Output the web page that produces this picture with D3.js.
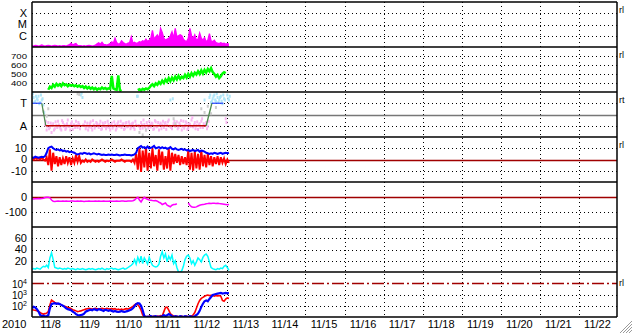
<!DOCTYPE html>
<html><head><meta charset="utf-8">
<script src="https://cdn.jsdelivr.net/npm/d3@7"></script>
<style>body{margin:0;background:#fff}svg{display:block}text{font-family:"Liberation Sans",Arial,sans-serif;fill:#000}</style>
</head><body><svg id="c" width="633" height="334"></svg>
<script>
// ---- data ----
const yearLabel = "2010";
const dayLabels = ["11/8","11/9","11/10","11/11","11/12","11/13","11/14","11/15","11/16","11/17","11/18","11/19","11/20","11/21","11/22"];
const xrayLevelLabels = ["X","M","C"];
const xrayLevelValues = [1e-4,1e-5,1e-6];
const speedTicks = [700,600,500,400];
const phiTickLabels = ["T","A"];
const phiTickValues = [270,90];
const bTicks = [10,0,-10];
const dstTicks = [0,-100];
const densTicks = [60,40,20];
const fluxTicks = [4,3,2];
const panelMarkers = ["rl","rl","rt","rl","","","rl"];

// hourly samples starting 2010-11-08 00:00 UT
// X-ray flux, units of 1e-7 W/m2
const xray = [1.3,1.2,1.4,1.3,1.2,1.3,1.5,1.3,1.2,1.3,
1.4,1.3,1.2,1.3,1.4,1.3,1.2,1.3,1.2,1.3,
1.3,1.2,1.4,1.6,2.2,1.5,1.8,2.0,1.4,1.3,
1.3,1.2,1.3,1.2,1.3,1.4,1.3,1.2,1.3,1.5,
1.9,2.4,1.8,2.6,1.7,1.6,1.5,1.7,2.0,2.8,
2.2,6.0,2.5,1.8,2.0,3.5,2.5,2.0,1.8,2.2,
2.5,8.0,2.2,2.6,2.0,2.4,3.0,2.6,3.5,3.0,
5.0,3.2,4.0,6.0,30,5,8,12,6,45,
20,6,4,5,6,10,22,6,45,8,
10,12,10,5,3.5,3,6,45,10,6,
12,4,5,17,6,4,7,3,4,15,
3.5,3,4,2.5,2.2,2.0,2.4,2.0,2.2,1.8,
2.0,1.8];
// solar wind speed, km/s
const speed = [null,null,null,null,null,null,null,null,null,null,
325,360,345,380,360,390,370,385,365,395,
375,385,365,380,370,378,365,375,360,372,
355,365,345,360,340,355,335,350,330,345,
325,340,330,350,335,345,330,340,335,480,
340,330,325,485,320,310,null,null,null,null,
null,null,null,null,null,320,330,318,335,325,
340,330,345,370,385,365,395,380,410,390,
425,400,440,415,455,420,460,430,470,440,
480,445,470,455,490,460,500,470,510,480,
515,495,530,500,540,505,545,515,555,530,
565,520,500,470,490,455,475,505,520,510];
// IMF direction samples (deg)
const phiA = [300,320,290,310,330,280,300,260,
100,60,120,80,40,
110,70,95,130,85,60,120,100,
75,140,90,110,65,100,130,80,105,340,
320,95,70,115,85,125,60,100,90,110,
80,130,70,95,120,85,105,60,115,90,
100,75,125,95,80,110,70,120,90,105,
85,115,65,100,330,90,120,75,105,60,
95,130,85,110,70,125,90,60,115,100,
80,120,95,140,300,70,110,90,125,80,
100,60,130,95,115,75,105,140,85,120,
95,65,110,130,80,300,120,90,320,280,
310,340,290,320,300,330,270,310,150,340,300];
const phiB = [350,280,330,300,270,340,310,200,
130,90,70,115,95,60,125,80,100,70,135,90,65,
110,90,60,125,100,80,95,120,70,355,
100,125,90,60,110,80,135,75,120,95,
105,65,115,90,70,130,80,100,75,125,
60,110,90,130,100,65,115,85,125,70,
110,80,130,330,95,70,100,140,85,120,
75,100,115,65,135,85,120,100,70,130,
110,65,125,90,80,310,130,100,70,115,
135,90,75,125,65,110,90,160,100,70,
125,100,80,150,110,95,70,130,340,290,
330,300,350,280,320,290,340,300,120,310,330];
const phiGrayHours = [7,9,10,28,29,66,68,70,87,88,104,106,108,110,113];
const phiGrayVals = [210,170,230,350,345,40,20,60,150,110,230,200,250,190,240];
// sector polarity (deg)
const sectorHours = [0,6,8.5,107,110.5,117.5];
const sectorVals = [270,270,90,90,270,270];
// IMF Bt and Bz (nT)
const bt = [2,1.5,2.5,2,1.5,2,2.5,2,3,6,
10,11,11.5,10,9,8.5,9,8,8.5,7.5,
8,7,7.5,6.5,7,6.5,6,5,4.5,5,
5.5,5,6,5.5,5,5.5,4.5,5,5.5,5,
4.5,5,4.5,4,4.5,4,4,4.5,4,4.5,
4,4,4.5,4,3.5,4,4,4.5,4,4,
4,3.5,4,4.5,6,10,11,12,10.5,11,
10,11.5,10,10.5,11,12,10,10.5,11,10,
11,10,10.5,9.5,10,11,9.5,9,10,9,
8.5,9,9.5,8.5,9,8,8.5,7.5,8,8.5,
7.5,8,8.5,7,8,7.5,7,6,5.5,5,
5.5,5,6,5.5,5,5.5,6,5,5.5,6,
5.5,6];
const bz = [1,0,1.5,0.5,1,0,1.5,0,-1,2,
-5,9,-10,6,-4,3,-6,2,-5,1,
-4,3,-3,2,-5,1,-3,4,-2,3,
-3,-1,-2,0,-2,-1,-2,0,-1,-2,
-1,-2,-1,0,-1,-2,-1,-1.5,-1,0,
-1,-2,-1,-1,-1,0,-1,-2,-1,-1,
-1,-2,0,-3,5,-9,10,-11,8,-7,
11,-10,6,-8,10,-6,4,-10,9,-5,
7,-9,3,-8,10,-10,6,-4,5,-3,
4,-5,3,-4,2,-5,8,-9,6,-10,
7,-8,5,-9,8,-6,4,-7,5,-5,
3,-6,2,-4,3,-5,2,-3,1,-4,
0,-3];
// Dst (nT)
const dst = [-12,-13,-11,-12,-10,-12,-10,-8,
-3,-2,-1,-5,
-20,-28,-30,-28,-27,-29,-28,-27,
-28,-27,-29,-28,-26,-27,-28,-29,-27,-28,
-27,-28,-30,-29,-28,-27,-28,-29,-28,-27,
-28,-27,-29,-28,-27,-28,-29,-28,-27,-28,
-28,-29,-27,-28,-28,-27,-26,-28,-29,-27,
-26,-27,-25,-20,-10,
-2,-20,-33,-15,-2,-10,-15,-20,-22,-24,
-25,-24,-28,-35,-40,-50,-45,-40,-55,-60,
-65,-55,-50,-50,-45,null,null,null,null,null,null,
-40,-55,-65,-68,-68,-66,-60,-55,-52,-50,
-48,-45,-44,-42,-43,-42,-42,-43,-42,-44,
-45,-46,-48,-50,-52,-50];
// density (cm^-3)
const dens = [5,6,5,7,6,5,8,10,9,12,
8,25,34,22,8,7,6,7,6,5,
6,5,7,6,5,6,5,4,6,5,
5,6,5,4,5,6,5,6,5,4,
5,6,5,7,5,4,6,5,6,7,
5,6,5,4,5,6,7,5,6,8,
10,12,15,22,14,26,18,28,15,25,
20,14,26,18,12,10,9,10,14,28,
36,25,32,18,28,22,30,15,20,8,
0,0,2,10,22,28,30,25,15,20,
12,18,25,22,18,26,30,32,28,18,
8,6,5,4,6,5,7,6,10,12,
8,3];
// particle flux (log)
const fluxBlue = [60,80,70,50,30,
15,12,13,11,12,14,
60,140,160,170,150,160,140,120,
100,80,60,50,45,40,30,
25,18,15,14,15,16,20,
30,35,40,45,40,50,45,40,50,45,40,35,45,40,35,40,35,
30,35,30,28,30,35,30,28,32,35,40,45,60,90,
140,170,160,100,40,12,
10,11,10,12,10,11,12,10,11,10,12,15,12,
14,18,15,12,10,12,11,10,12,11,10,12,11,10,12,11,10,12,15,20,35,
80,150,250,300,250,400,600,900,1000,1100,1200,1300,1400,1200,1300,1400,1300,1300];
const fluxRed = [45,42,40,35,30,
25,20,18,20,22,30,
120,320,250,200,170,150,140,120,
100,90,80,70,65,55,45,
40,35,30,32,35,40,45,
50,55,60,55,50,55,60,55,50,55,60,55,50,60,55,50,55,
50,55,45,50,45,50,45,50,55,50,60,70,90,120,
150,120,80,40,15,12,
11,10,12,10,11,12,10,12,11,13,12,30,70,
75,40,20,15,12,11,12,10,11,12,10,11,12,10,11,12,15,25,60,150,300,
450,550,700,800,900,800,850,800,700,800,750,800,700,300,250,400,500,450];

// ---- drawing ----
const svg = d3.select("#c");
const L = 32, R = 617;
const t0 = new Date(2010,10,8);
const x = d3.scaleTime().domain([t0, new Date(2010,10,23)]).range([L, 618]);
const tAt = i => new Date(t0.getTime() + i*3600e3);
const tops = [2,47,92,137,182,227,272], H = 45;
const ys = [
  d3.scaleLog().domain([1e-7,1e-3]).range([47,2]),
  d3.scaleLinear().domain([300,800]).range([92,47]),
  d3.scaleLinear().domain([0,360]).range([137,92]),
  d3.scaleLinear().domain([-20,20]).range([182,137]),
  d3.scaleLinear().domain([-200,100]).range([227,182]),
  d3.scaleLinear().domain([0,80]).range([272,227]),
  d3.scaleLog().domain([10,1e5]).range([317,272])
];
const defs = svg.append("defs");
tops.forEach((t,i)=>{
  defs.append("clipPath").attr("id","cp"+i).append("rect").attr("x",L).attr("y",t).attr("width",R-L).attr("height",H);
});
const G = i => svg.append("g").attr("clip-path",`url(#cp${i})`);

// grid
const grid = svg.append("g").attr("stroke","#000").attr("stroke-width",1).attr("stroke-dasharray","1,3");
const days = d3.range(1,15).map(d => new Date(2010,10,8+d));
days.forEach(d=>{ const xx = Math.round(x(d))+0.5;
  grid.append("line").attr("x1",xx).attr("x2",xx).attr("y1",2).attr("y2",317); });
function hgrid(i, vals){ vals.forEach(v=>{ const yy = Math.round(ys[i](v))+0.5;
  grid.append("line").attr("x1",L).attr("x2",R).attr("y1",yy).attr("y2",yy); }); }
hgrid(0, xrayLevelValues); hgrid(1, speedTicks); hgrid(2, phiTickValues);
hgrid(3, [10,-10]); hgrid(4, [-100]); hgrid(5, densTicks); hgrid(6, [1e3,1e2]);

// reference lines
function refLine(i, v, color, dash){ const yy = Math.round(ys[i](v))+0.5;
  const l = svg.append("line").attr("x1",L).attr("x2",R).attr("y1",yy).attr("y2",yy)
    .attr("stroke",color).attr("stroke-width",1.3);
  if (dash) l.attr("stroke-dasharray",dash); }
refLine(2, 180, "#777");
refLine(3, 0, "#a00000");
refLine(4, 0, "#a00000");
refLine(6, 1e4, "#a00000", "12,3,2,3");

// panel 1: xray
{ const g = G(0), y = ys[0];
  const area = d3.area().x((d,i)=>x(tAt(i))).y0(47).y1(d=>y(d*1e-7));
  g.append("path").attr("d",area(xray)).attr("fill","#ff00ff");
  const line = d3.line().x((d,i)=>x(tAt(i))).y(d=>y(d*1e-7));
  g.append("path").attr("d",line(xray)).attr("fill","none").attr("stroke","#ff00ff").attr("stroke-width",1.3);
}
// panel 2: speed
{ const g = G(1), y = ys[1];
  const line = d3.line().defined(d=>d!=null).x((d,i)=>x(tAt(i))).y(d=>y(d));
  g.append("path").attr("d",line(speed)).attr("fill","none").attr("stroke","#00ff00").attr("stroke-width",2.5);
}
// panel 3: phi
{ const g = G(2), y = ys[2];
  const col = v => v > 180 ? "#b0e6f8" : "#f8b8f0";
  [phiA, phiB].forEach((arr,k)=>{
    g.selectAll(null).data(arr).enter().append("rect")
      .attr("x",(d,i)=>x(tAt(i + k*0.5))-1).attr("y",d=>y(d)-1)
      .attr("width",2).attr("height",3).attr("fill",d=>col(d));
  });
  g.selectAll(null).data(phiGrayVals).enter().append("rect")
    .attr("x",(d,i)=>x(tAt(phiGrayHours[i]))-1).attr("y",d=>y(d)-1)
    .attr("width",2).attr("height",3).attr("fill","#cccccc");
  for (let i=0;i<sectorHours.length-1;i++){
    const a = sectorVals[i], b = sectorVals[i+1];
    const c = a!==b ? "#4e8a4e" : (a>180 ? "#3050ff" : "#c00000");
    g.append("line").attr("x1",x(tAt(sectorHours[i]))).attr("x2",x(tAt(sectorHours[i+1])))
      .attr("y1",y(a)).attr("y2",y(b)).attr("stroke",c).attr("stroke-width",1.3);
  }
}
// panel 4: Bt / Bz
{ const g = G(3), y = ys[3];
  const line = d3.line().x((d,i)=>x(tAt(i))).y(d=>y(d));
  g.append("path").attr("d",line(bz)).attr("fill","none").attr("stroke","#ff0000").attr("stroke-width",2);
  g.append("path").attr("d",line(bt)).attr("fill","none").attr("stroke","#0000ff").attr("stroke-width",2);
}
// panel 5: Dst
{ const g = G(4), y = ys[4];
  const line = d3.line().defined(d=>d!=null).x((d,i)=>x(tAt(i))).y(d=>y(d));
  g.append("path").attr("d",line(dst)).attr("fill","none").attr("stroke","#ff00ff").attr("stroke-width",1.5);
}
// panel 6: density
{ const g = G(5), y = ys[5];
  const line = d3.line().x((d,i)=>x(tAt(i))).y(d=>y(d));
  g.append("path").attr("d",line(dens)).attr("fill","none").attr("stroke","#00ffff").attr("stroke-width",1.5);
}
// panel 7: flux
{ const g = G(6), y = ys[6];
  const line = d3.line().x((d,i)=>x(tAt(i))).y(d=>y(d));
  g.append("path").attr("d",line(fluxRed)).attr("fill","none").attr("stroke","#ff0000").attr("stroke-width",1.6);
  g.append("path").attr("d",line(fluxBlue)).attr("fill","none").attr("stroke","#0000ff").attr("stroke-width",2.2);
}

// frame
const fr = svg.append("g").attr("stroke","#000").attr("stroke-width",1.5);
tops.concat([317]).forEach(t=>fr.append("line").attr("x1",L).attr("x2",R).attr("y1",t).attr("y2",t));
fr.append("line").attr("x1",L).attr("x2",L).attr("y1",2).attr("y2",317);
fr.append("line").attr("x1",R).attr("x2",R).attr("y1",2).attr("y2",317);

// y labels
const lab = svg.append("g").attr("font-size","11px").attr("text-anchor","end");
function ylab(i, vals, texts, fs, tl){ vals.forEach((v,k)=>{
  const t = lab.append("text").attr("x",27).attr("y",ys[i](v)).attr("dy","0.36em").text(texts? texts[k] : String(v));
  if (fs) t.attr("font-size",fs);
  if (tl) t.attr("textLength",tl).attr("lengthAdjust","spacingAndGlyphs"); }); }
ylab(0, xrayLevelValues, xrayLevelLabels);
ylab(1, speedTicks, null, "8px", 16);
ylab(2, phiTickValues, phiTickLabels);
ylab(3, bTicks);
ylab(4, dstTicks);
ylab(5, densTicks);
fluxTicks.forEach(p=>{
  const t = lab.append("text").attr("x",27).attr("y",ys[6](Math.pow(10,p))).attr("dy","0.45em").attr("font-size","10px");
  t.append("tspan").text("10");
  t.append("tspan").attr("font-size","7px").attr("dy","-0.6em").text(String(p));
});

// right markers
panelMarkers.forEach((m,i)=>{ if(!m) return;
  const yy = i===6 ? ys[6](1e4)+3 : tops[i]+11;
  svg.append("text").attr("x",619).attr("y",yy).attr("font-size","9px").text(m);
});

// x labels
const xl = svg.append("g").attr("font-size","11px").attr("text-anchor","middle");
dayLabels.forEach((s,k)=>{
  const mid = new Date(2010,10,8+k,12);
  xl.append("text").attr("x",x(mid)-1).attr("y",328).text(s);
});
svg.append("text").attr("x",2).attr("y",328).attr("font-size","11px").text(yearLabel);

// corner grip
const grip = svg.append("g").attr("stroke","#9a9a9a").attr("stroke-width",1);
[0,1,2,3].forEach(k=>grip.append("line").attr("x1",620+k*3).attr("y1",333).attr("x2",632).attr("y2",321+k*3));
</script></body></html>
